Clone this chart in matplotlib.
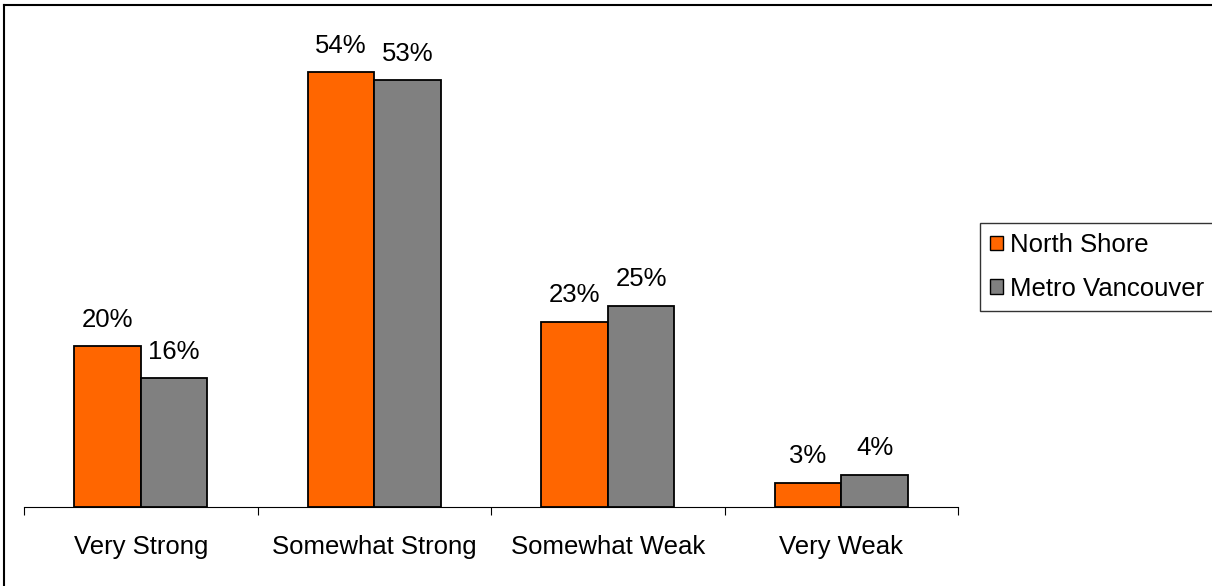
import numpy as np
import matplotlib.pyplot as plt
from matplotlib.patches import Patch
from matplotlib.lines import Line2D

plt.rcParams['font.family'] = ['Liberation Sans', 'DejaVu Sans']

categories = ['Very Strong', 'Somewhat Strong', 'Somewhat Weak', 'Very Weak']
north_shore = [20, 54, 23, 3]
metro_van = [16, 53, 25, 4]
series_names = ['North Shore', 'Metro Vancouver']
colors = ['#FF6600', '#808080']

W, H = 1212, 586
FS = 18.5
fig = plt.figure(figsize=(W / 100, H / 100), dpi=100)
ax = fig.add_axes([24 / W, (H - 507) / H, (958 - 24) / W, (507 - 24) / H])

x = np.arange(len(categories))
bw = 1 / 3.5
for i, (vals, c) in enumerate(zip([north_shore, metro_van], colors)):
    pos = x + (i - 0.5) * bw
    ax.bar(pos, vals, width=bw, color=c, edgecolor='black', linewidth=1.3,
           label=series_names[i], zorder=3)
    for p, v in zip(pos, vals):
        ax.text(p, v + 1.8, f'{v}%', ha='center', va='bottom', fontsize=FS)

ax.set_xlim(-0.5, len(categories) - 0.5)
ax.set_ylim(0, 60)
for s in ['left', 'right', 'top']:
    ax.spines[s].set_visible(False)
ax.spines['bottom'].set_color('black')
ax.spines['bottom'].set_linewidth(0.8)
ax.set_yticks([])
ax.set_xticks(np.arange(len(categories) + 1) - 0.5)
ax.set_xticklabels([])
ax.tick_params(axis='x', which='major', direction='out', length=6, width=0.8)
ax.set_xticks(x, minor=True)
ax.set_xticklabels(categories, minor=True, fontsize=FS)
ax.tick_params(axis='x', which='minor', length=0, pad=20)

handles = [Patch(facecolor=c, edgecolor='black', linewidth=1) for c in colors]
leg = fig.legend(handles, series_names, loc='upper left',
                 bbox_to_anchor=(980 / W, 1 - 223 / H), fontsize=FS,
                 frameon=True, fancybox=False, edgecolor='black',
                 handlelength=0.5, handleheight=0.5, handletextpad=0.25,
                 labelspacing=0.75, borderpad=0.4, borderaxespad=0)
leg.get_frame().set_linewidth(1)

# outer chart border (left and top visible)
fig.add_artist(Line2D([4 / W, 4 / W], [0, 1 - 5 / H], color='black', lw=1.5))
fig.add_artist(Line2D([4 / W, 1], [1 - 5 / H, 1 - 5 / H], color='black', lw=1.5))

fig.savefig('out.png', dpi=100)
